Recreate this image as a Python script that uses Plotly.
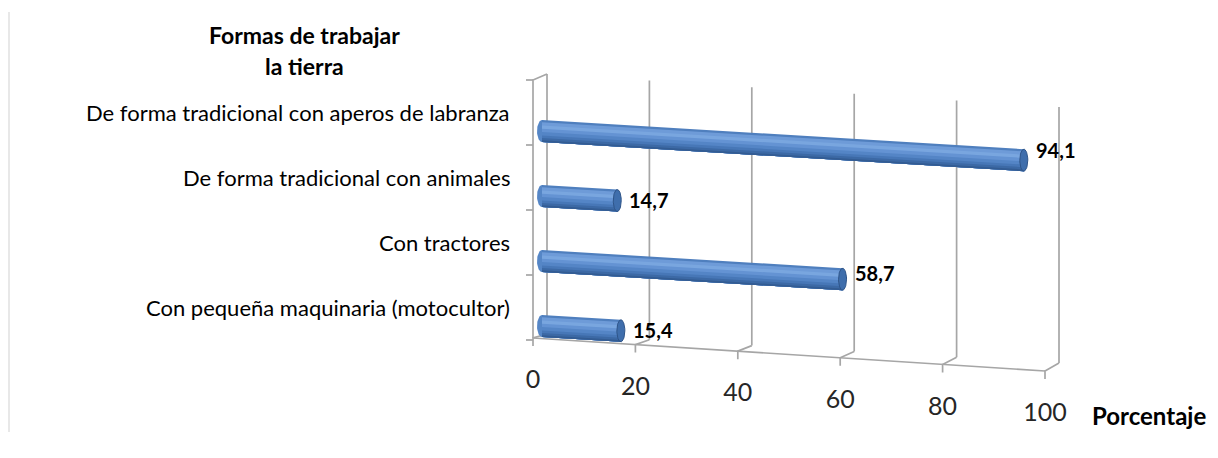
import numpy as np
import plotly.graph_objects as go

# ---------------- data ----------------
categories = [
    "De forma tradicional con aperos de labranza",
    "De forma tradicional con animales",
    "Con tractores",
    "Con pequeña maquinaria (motocultor)",
]
values = [94.1, 14.7, 58.7, 15.4]
value_labels = ["94,1", "14,7", "58,7", "15,4"]
x_ticks = [0, 20, 40, 60, 80, 100]
x_tick_labels = ["0", "20", "40", "60", "80", "100"]
title_lines = ["Formas de trabajar", "la tierra"]
x_title = "Porcentaje"

# ---------------- geometry (oblique projection of the 3-D Excel look) ----------------
PAGE_W, PAGE_H = 1218, 458
BODY = 8                              # default page margin around the figure
W, H = PAGE_W - BODY, PAGE_H - BODY   # figure size
PX_PER_X = 5.12      # pixels per percentage unit
X0_PX = 542          # page pixel column of value 0 (bar plane)
PX_PER_ROW = 65      # pixels per category row
ROW0_PX = 80         # page pixel row of the top of the category axis


def dx(px):
    return px / PX_PER_X


def du(px):
    return px / PX_PER_ROW


def paper_x(px):
    return (px - BODY) / W


def paper_y(py):
    return 1 - (py - BODY) / H


FONT = "Lato, 'Open Sans', sans-serif"
GRID = "#a6a6a6"

BAR_SKEW = du(0.31)       # rows per percentage unit (bars sag to the right)
FLOOR_SKEW = du(0.33)
BACK_SKEW = du(0.29)
TOP_SKEW = du(0.33)
FRONT_DX = dx(-9)
BACK_DX = dx(5)
FLOOR_U0 = du(338 - ROW0_PX)
BACK_U0 = du(334 - ROW0_PX)
TOP_U0 = du(74 - ROW0_PX)
BAR_U0 = du(131 - ROW0_PX)
BAR_H = du(22)

fig = go.Figure()

# ---------------- walls, floor and gridlines ----------------
gx, gy = [], []
for t in x_ticks:
    gx += [t + BACK_DX, t + BACK_DX, None]
    gy += [BACK_U0 + BACK_SKEW * t, TOP_U0 + TOP_SKEW * t, None]
for t in x_ticks:
    fx = t + FRONT_DX
    fy = FLOOR_U0 + FLOOR_SKEW * t
    gx += [t + BACK_DX, fx, fx, None]
    gy += [BACK_U0 + BACK_SKEW * t, fy, fy + du(8), None]
gx += [x_ticks[0] + FRONT_DX, x_ticks[-1] + FRONT_DX, None]
gy += [FLOOR_U0 + FLOOR_SKEW * x_ticks[0], FLOOR_U0 + FLOOR_SKEW * x_ticks[-1], None]
gx += [FRONT_DX, FRONT_DX, BACK_DX, None]
gy += [FLOOR_U0, 0, TOP_U0, None]
for k in range(len(categories) + 1):
    gx += [FRONT_DX - dx(7), FRONT_DX, None]
    gy += [k, k, None]

fig.add_trace(go.Scatter(x=gx, y=gy, mode="lines",
                         line=dict(color=GRID, width=1.7),
                         hoverinfo="skip", showlegend=False))

# ---------------- cylinder bars ----------------
shade_stops = [
    (0.00, "#4f7fbe"),
    (0.10, "#6e9bd8"),
    (0.25, "#79a6df"),
    (0.40, "#6493d3"),
    (0.55, "#5485c6"),
    (0.70, "#4777b7"),
    (0.82, "#3c69a5"),
    (0.92, "#335c93"),
]
theta = np.linspace(0, 2 * np.pi, 60)
for i, v in enumerate(values):
    u0 = i + BAR_U0
    top0 = u0 - BAR_H / 2
    top1 = u0 + BAR_SKEW * v - BAR_H / 2
    fig.add_trace(go.Scatter(
        x=list(dx(5) * np.cos(theta)), y=list(u0 + BAR_H / 2 * np.sin(theta)),
        mode="lines", fill="toself", fillcolor="#5586c6",
        line=dict(width=0, color="#5586c6"), hoverinfo="skip", showlegend=False))
    for frac, col in shade_stops:
        xs = [0, v, v, 0, 0]
        ys = [top0 + frac * BAR_H, top1 + frac * BAR_H,
              top1 + BAR_H, top0 + BAR_H, top0 + frac * BAR_H]
        fig.add_trace(go.Scatter(x=xs, y=ys, mode="lines", fill="toself",
                                 fillcolor=col, line=dict(width=0, color=col),
                                 hoverinfo="skip", showlegend=False))
    ue = u0 + BAR_SKEW * v
    fig.add_trace(go.Scatter(
        x=list(v + dx(4) * np.cos(theta)), y=list(ue + BAR_H / 2 * np.sin(theta)),
        mode="lines", fill="toself", fillcolor="#3f6eac",
        line=dict(width=1, color="#2e5488"), hoverinfo="skip", showlegend=False))

# ---------------- value labels ----------------
for i, (v, lab) in enumerate(zip(values, value_labels)):
    fig.add_annotation(x=v, y=i + BAR_U0 + du(0.19 * v + 1), text="<b>%s</b>" % lab,
                       xref="x", yref="y", xanchor="left", yanchor="middle", xshift=10,
                       showarrow=False, font=dict(family=FONT, size=20, color="#000000"))

# ---------------- category labels ----------------
for i, c in enumerate(categories):
    fig.add_annotation(x=dx(512 - X0_PX), y=i + 0.5, text=c, xref="x", yref="y",
                       xanchor="right", yanchor="middle", showarrow=False,
                       font=dict(family=FONT, size=22, color="#000000"))

# ---------------- value-axis tick labels ----------------
fig.add_trace(go.Scatter(
    x=[t + FRONT_DX for t in x_ticks],
    y=[FLOOR_U0 + FLOOR_SKEW * t + du(44) for t in x_ticks],
    mode="text", text=x_tick_labels, textposition="middle center",
    textfont=dict(family=FONT, size=25, color="#262626"),
    hoverinfo="skip", showlegend=False))

fig.add_annotation(x=dx(1090 - X0_PX), y=du(415 - ROW0_PX), text="<b>%s</b>" % x_title,
                   xref="x", yref="y", xanchor="left", yanchor="middle", showarrow=False,
                   font=dict(family=FONT, size=24, color="#000000"))

# ---------------- title (category axis title) ----------------
for line, ypx in zip(title_lines, [35, 66]):
    fig.add_annotation(x=paper_x(304), y=paper_y(ypx), text="<b>%s</b>" % line,
                       xref="paper", yref="paper", xanchor="center", yanchor="middle",
                       showarrow=False, font=dict(family=FONT, size=23, color="#000000"))

# left chart-area border
fig.add_shape(type="line", xref="paper", yref="paper",
              x0=paper_x(9), x1=paper_x(9), y0=paper_y(12), y1=paper_y(432),
              line=dict(color="#d9d9d9", width=1.2))

fig.update_layout(
    width=W, height=H,
    margin=dict(l=0, r=0, t=0, b=0),
    paper_bgcolor="white", plot_bgcolor="white",
    showlegend=False,
    xaxis=dict(visible=False,
               range=[(BODY - X0_PX) / PX_PER_X, (PAGE_W - X0_PX) / PX_PER_X]),
    yaxis=dict(visible=False,
               range=[(PAGE_H - ROW0_PX) / PX_PER_ROW, (BODY - ROW0_PX) / PX_PER_ROW]),
)

fig.write_html("out.html", config={"displayModeBar": False})
